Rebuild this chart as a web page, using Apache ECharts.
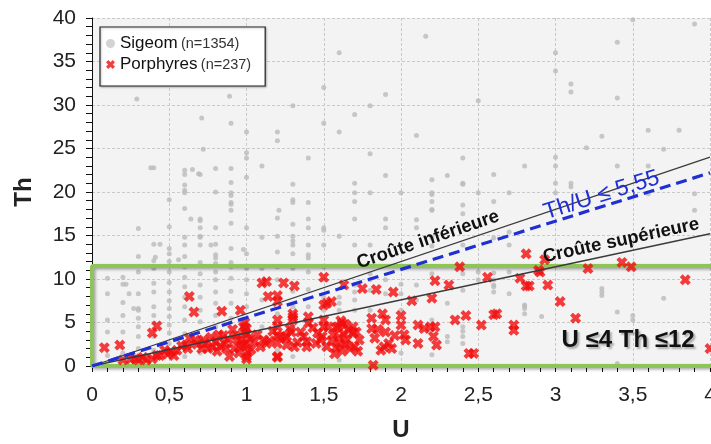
<!DOCTYPE html>
<html><head><meta charset="utf-8">
<script src="https://cdn.jsdelivr.net/npm/echarts@6/dist/echarts.min.js"></script>
<style>html,body{margin:0;padding:0;background:#fff}#c{width:711px;height:444px}</style>
</head><body><div id="c"></div>
<script>
// ---- data ----
const xTicks = [0, 0.5, 1, 1.5, 2, 2.5, 3, 3.5, 4];
const yTicks = [0, 5, 10, 15, 20, 25, 30, 35, 40];
const legendNames = ['Sigeom', 'Porphyres'];
const legendCounts = ['(n=1354)', '(n=237)'];
const ratioLower = 6;      // Croûte inférieure
const ratioLimit = 5.55;   // Th/U ≤ 5,55
const ratioUpper = 3.8;    // Croûte supérieure
const boxUMax = 4.15;
const boxThMax = 11.5;
const sigeomPoints = [
[0.29,30.7],[0.38,22.8],[0.3,15.8],[0.3,12.6],[0.4,22.8],[0.4,14.0],[0.44,14.0],[0.41,12.5],[0.4,12.1],
[0.5,19.1],[0.5,16.0],[0.5,13.5],[0.5,12.9],[0.5,12.0],[0.56,12.2],
[0.6,22.5],[0.6,22.0],[0.6,20.8],[0.6,20.2],[0.6,19.9],[0.6,18.1],[0.6,14.8],[0.6,13.9],[0.6,12.6],[0.65,22.6],[0.64,16.9],[0.69,22.1],
[0.7,22.0],[0.7,16.9],[0.7,16.7],[0.7,15.9],[0.7,14.9],[0.7,14.8],[0.7,13.9],[0.7,11.9],[0.71,28.5],[0.72,24.9],
[0.8,22.7],[0.8,20.0],[0.8,15.9],[0.77,13.9],[0.8,14.0],[0.8,12.8],[0.8,12.4],[0.8,11.8],
[0.9,27.9],[0.9,22.7],[0.9,21.1],[0.9,19.9],[0.9,19.6],[0.9,18.8],[0.9,18.6],[0.9,17.9],[0.9,16.4],[0.9,13.5],[0.9,11.9],[0.89,31.0],
[1.0,26.9],[1.0,24.5],[1.0,23.9],[1.0,21.7],[1.0,15.9],[0.98,13.4],[1.0,12.9],
[1.1,23.0],[1.1,14.8],
[1.2,26.9],[1.2,25.9],[1.2,17.0],[1.21,17.9],[1.2,14.9],[1.2,13.1],
[1.3,29.9],[1.3,20.9],[1.3,19.1],[1.3,18.8],[1.3,16.3],[1.3,14.9],[1.3,14.4],[1.3,13.9],[1.3,12.9],
[1.4,23.9],[1.4,18.8],[1.4,16.9],[1.4,15.9],[1.4,13.9],[1.4,12.8],[1.4,12.4],
[1.5,32.0],[1.5,27.9],[1.5,15.6],[1.5,13.9],[1.5,15.9],
[1.6,36.0],[1.6,26.9],[1.6,14.9],
[1.7,28.9],[1.7,21.0],[1.7,19.9],[1.7,18.9],[1.7,16.9],[1.7,13.9],
[1.8,29.9],[1.8,24.4],[1.8,19.9],[1.8,13.9],
[1.9,31.2],[1.9,21.9],[1.9,16.9],[1.9,15.9],
[2.0,19.9],
[2.1,26.5],[2.1,16.8],[2.1,15.9],
[2.16,37.9],
[2.2,21.4],[2.2,19.9],[2.2,18.9],[2.2,17.9],[2.2,19.7],[2.2,18.0],[2.2,14.7],[2.2,13.8],
[2.3,21.9],
[2.4,23.9],[2.4,21.0],[2.4,18.5],[2.4,20.9],[2.4,17.5],[2.4,13.9],
[2.5,30.5],[2.5,19.9],
[2.6,22.0],[2.6,18.9],[2.6,14.7],
[2.7,19.9],[2.7,15.4],[2.7,13.9],
[2.8,23.0],
[3.0,36.0],[3.0,33.9],[3.0,24.0],[3.0,23.0],[3.0,21.0],[3.0,19.9],
[3.1,32.4],[3.1,31.5],[3.1,21.0],[3.1,20.6],
[3.2,25.1],[3.3,26.4],[3.4,37.2],[3.4,30.8],[3.4,23.0],[3.5,39.8],
[3.6,27.1],[3.6,23.0],[3.6,19.8],[3.7,24.9],[3.8,27.1],[3.9,39.3],[3.9,19.8],[3.9,17.9],
[0.1,10.1],[0.1,8.3],[0.1,5.3],[0.1,3.9],[0.1,1.2],
[0.2,10.2],[0.2,9.4],[0.2,7.3],[0.2,5.8],[0.2,3.9],[0.22,9.4],[0.2,1.5],
[0.3,10.8],[0.3,8.3],[0.3,6.6],[0.3,6.4],[0.3,5.5],[0.3,4.5],[0.3,3.4],[0.24,8.3],[0.27,6.6],[0.3,2.0],
[0.4,11.2],[0.4,9.5],[0.4,8.5],[0.4,6.8],[0.4,5.8],[0.4,4.9],[0.4,3.4],[0.4,1.8],
[0.5,10.8],[0.5,9.6],[0.5,8.5],[0.5,7.5],[0.5,6.6],[0.5,5.7],[0.5,4.7],[0.5,3.8],[0.5,2.6],
[0.6,11.4],[0.6,10.2],[0.6,9.1],[0.6,7.9],[0.6,6.8],[0.6,5.3],[0.6,3.7],[0.6,2.2],[0.6,1.1],
[0.7,10.6],[0.7,9.3],[0.7,7.9],[0.7,6.4],[0.7,5.1],[0.7,3.2],[0.7,1.5],
[0.8,10.8],[0.8,9.9],[0.8,8.5],[0.8,7.2],[0.8,5.8],[0.8,4.5],[0.8,3.0],
[0.9,11.4],[0.9,10.1],[0.9,8.6],[0.9,7.2],[0.9,5.5],[0.9,3.4],
[1.0,11.2],[1.0,9.9],[1.0,8.3],[1.0,6.8],[1.0,4.9],[1.0,2.6],
[1.1,11.2],[1.1,9.5],[1.1,7.6],[1.1,4.5],
[1.2,11.4],[1.2,9.9],[1.2,7.9],[1.2,6.0],[1.2,3.4],[1.2,1.8],
[1.3,11.2],[1.3,8.6],[1.3,6.8],[1.3,4.5],[1.3,2.6],[1.3,1.1],
[1.4,10.8],[1.4,8.8],[1.4,6.8],[1.4,4.9],[1.4,2.7],
[1.5,11.4],[1.5,9.9],[1.5,7.9],[1.5,6.4],[1.5,4.5],[1.5,2.2],
[1.6,7.9],[1.6,7.2],[1.6,6.4],[1.6,0.7],
[1.7,9.3],[1.7,8.5],[1.7,7.6],[1.7,6.4],
[1.8,10.6],[1.8,9.9],[1.8,8.7],[1.8,6.4],
[1.9,9.9],[1.9,8.3],
[2.0,9.4],[2.0,8.3],[2.0,6.4],[2.0,1.5],
[2.1,9.3],[2.1,7.6],
[2.2,10.6],[2.2,5.3],[2.2,1.3],
[2.3,7.2],[2.3,3.4],[2.3,2.8],
[2.4,10.6],[2.4,8.7],[2.4,4.5],[2.4,4.0],[2.4,3.4],[2.4,2.6],
[2.5,10.8],[2.5,9.9],
[2.6,10.7],[2.6,9.3],[2.6,8.5],[2.6,9.9],[2.6,9.1],
[2.7,10.8],[2.7,8.3],
[2.8,6.9],[2.8,6.0],[2.8,7.0],[2.8,6.6],
[2.9,10.6],[2.91,5.7],
[3.3,8.9],[3.3,8.5],[3.3,8.1],
[3.4,6.2],[3.5,5.8],[3.5,5.3],[3.7,7.8],[3.4,0.3]
];
const porphyrePoints = [
[0.08,2.1],[0.18,2.4],[0.2,0.7],[0.25,0.8],[0.28,0.84],[0.3,0.7],[0.33,1.0],[0.35,0.7],[0.39,0.84],[0.39,3.8],[0.42,4.6],
[0.42,1.2],[0.44,1.2],[0.47,1.8],[0.49,1.4],[0.51,1.6],[0.53,1.2],[0.55,1.8],[0.58,2.3],
[0.63,8.0],[0.66,6.2],[0.61,2.4],[0.62,2.0],[0.63,3.2],[0.67,3.0],[0.68,2.5],[0.71,2.0],[0.72,3.0],[0.73,2.6],[0.75,2.0],[0.77,3.3],
[0.78,2.2],[0.8,2.8],[0.81,1.7],[0.82,3.6],[0.84,6.3],[0.85,3.5],[0.86,2.6],[0.88,3.1],[0.89,1.1],
[0.91,4.2],[0.92,2.0],[0.93,3.5],[0.94,3.0],[0.96,2.2],[0.96,6.4],[0.97,3.0],[0.98,4.5],[0.99,4.0],
[1.0,3.7],[1.0,2.6],[1.0,1.1],[1.0,0.8],[1.02,3.2],[1.03,1.9],[1.05,2.8],[1.07,3.6],
[0.99,5.0],[1.0,4.3],[1.01,1.6],[0.98,2.4],[0.95,1.5],[0.87,2.0],[0.83,2.3],
[1.1,9.55],[1.13,9.7],[1.14,8.0],[1.2,8.1],[1.24,9.55],[1.31,9.2],[1.2,7.4],
[1.11,3.0],[1.09,2.2],[1.13,2.6],[1.15,2.9],[1.17,4.0],
[1.2,5.3],[1.2,4.5],[1.2,3.5],[1.2,2.6],[1.2,1.1],[1.22,3.4],[1.26,2.4],[1.2,1.0],
[1.26,3.4],[1.29,3.9],[1.31,2.2],[1.25,3.2],[1.28,4.3],[1.3,6.0],[1.3,5.3],[1.3,5.65],[1.33,2.7],[1.35,3.9],
[1.37,3.4],[1.39,2.2],[1.39,2.8],[1.4,4.9],[1.4,5.65],[1.43,4.4],[1.45,2.6],[1.46,3.8],
[1.48,3.0],[1.5,10.2],[1.5,4.5],[1.5,7.0],[1.55,7.4],[1.55,2.9],
[1.52,7.2],[1.5,5.3],[1.53,4.5],[1.49,3.4],[1.52,2.2],
[1.58,4.4],[1.64,4.8],[1.69,3.8],[1.58,2.1],[1.64,2.5],
[1.59,4.5],[1.62,4.9],[1.63,3.7],[1.6,2.6],[1.65,3.0],[1.62,1.7],
[1.56,3.6],[1.6,3.3],[1.66,4.1],[1.67,2.0],[1.57,1.4],[1.61,5.2],
[1.63,9.3],[1.75,8.9],[1.84,8.8],[1.95,8.5],
[1.69,4.5],[1.71,3.9],[1.73,3.0],[1.7,2.2],[1.72,1.7],
[1.81,5.5],[1.81,4.3],[1.83,3.2],[1.85,4.2],[1.82,0.1],
[1.88,6.0],[1.9,5.3],[1.89,2.2],[1.94,2.0],[1.9,3.9],[1.96,3.5],[1.92,2.6],[1.87,1.8],
[2.0,5.8],[2.0,4.7],[2.02,3.6],[2.03,3.0],
[2.07,7.5],[2.2,7.8],[2.22,9.8],[2.31,9.3],
[2.11,4.7],[2.15,4.3],[2.19,4.5],[2.22,4.5],[2.21,3.4],[2.23,2.4],[2.11,2.6],
[2.35,5.3],[2.42,5.8],[2.44,1.45],[2.47,1.45],[2.52,4.7],[2.6,5.9],
[2.38,11.4],[2.56,10.2],[2.62,6.0],[2.73,4.7],[2.73,4.1],
[2.77,10.1],[2.81,9.2],[2.83,9.2],[2.89,11.0],[2.9,10.8],[2.95,9.3],
[2.81,12.9],[2.93,12.2],[3.03,7.4],[3.13,5.5],
[3.21,11.2],[3.43,11.9],[3.49,11.4],[3.84,9.9],[4.0,2.0]
];

const FONT = '"Liberation Sans", Arial, Helvetica, sans-serif';
const xMax = xTicks[xTicks.length - 1];
const crossPath = 'path://M0,2.6 L2.6,0 L5,2.4 L7.4,0 L10,2.6 L7.6,5 L10,7.4 L7.4,10 L5,7.6 L2.6,10 L0,7.4 L2.4,5 Z';
const fmt = v => String(v).replace('.', ',');

const chart = echarts.init(document.getElementById('c'), null, {renderer: 'canvas'});

function lineData(r) { return [[0, 0], [xMax, r * xMax]]; }
const boxOutline = [[boxUMax, boxThMax], [0, boxThMax], [0, 0], [boxUMax, 0]];

const option = {
  animation: false,
  backgroundColor: '#ffffff',
  textStyle: {fontFamily: FONT},
  grid: {left: 92, right: 1, top: 18, bottom: 78, show: true, backgroundColor: '#f3f3f3', borderWidth: 0,
         containLabel: false, outerBoundsMode: 'none'},
  legend: {
    data: [{name: legendNames[0], icon: 'circle', itemStyle: {color: '#c8c8c8'}},
           {name: legendNames[1], icon: crossPath, itemStyle: {color: '#e81010'}}],
    orient: 'vertical', left: 100, top: 27,
    backgroundColor: '#ffffff', borderColor: '#222', borderWidth: 1.2,
    padding: [8, 14, 13, 6], itemGap: 4, itemWidth: 9, itemHeight: 9,
    shadowColor: 'rgba(0,0,0,0.25)', shadowBlur: 2, shadowOffsetX: 1, shadowOffsetY: 1,
    formatter: name => '{n|' + name + '} {s|' + legendCounts[legendNames.indexOf(name)] + '}',
    textStyle: {
      fontFamily: FONT,
      rich: {
        n: {fontSize: 17, color: '#111', fontFamily: FONT, lineHeight: 22},
        s: {fontSize: 14.5, color: '#333', fontFamily: FONT}
      }
    }
  },
  xAxis: {
    type: 'value', min: xTicks[0], max: xMax, interval: xTicks[1] - xTicks[0],
    name: 'U', nameLocation: 'middle', nameGap: 52,
    nameTextStyle: {fontSize: 24, fontWeight: 'bold', color: '#222', fontFamily: FONT},
    axisLine: {show: true, onZero: false, lineStyle: {color: '#111', width: 1}},
    axisTick: {show: true, length: 6, lineStyle: {color: '#111'}},
    minorTick: {show: true, splitNumber: 5, length: 6, lineStyle: {color: '#111'}},
    axisLabel: {fontSize: 21, color: '#222', margin: 19, formatter: fmt, fontFamily: FONT},
    splitLine: {show: true, lineStyle: {color: '#c9c9c9', type: [3, 2], width: 1}}
  },
  yAxis: {
    type: 'value', min: yTicks[0], max: yTicks[yTicks.length - 1], interval: yTicks[1] - yTicks[0],
    name: 'Th', nameLocation: 'middle', nameGap: 56, nameRotate: 90,
    nameTextStyle: {fontSize: 24, fontWeight: 'bold', color: '#222', fontFamily: FONT},
    axisLine: {show: true, lineStyle: {color: '#111', width: 1}},
    axisTick: {show: true, length: 6, lineStyle: {color: '#111'}},
    minorTick: {show: true, splitNumber: 5, length: 6, lineStyle: {color: '#111'}},
    axisLabel: {fontSize: 21, color: '#222', margin: 16, fontFamily: FONT},
    splitLine: {show: true, lineStyle: {color: '#c9c9c9', type: [3, 2], width: 1}}
  },
  series: [
    {
      name: legendNames[0], type: 'scatter', data: sigeomPoints, symbol: 'circle', symbolSize: 5,
      itemStyle: {color: '#bababa'}, z: 2, silent: true
    },
    {
      name: 'box', type: 'line', data: boxOutline, clip: false, showSymbol: false, symbol: 'none', z: 3, silent: true,
      lineStyle: {color: '#8dc656', width: 4, shadowColor: 'rgba(0,0,0,0.35)', shadowBlur: 3, shadowOffsetX: 1.5, shadowOffsetY: 1.5}
    },
    {
      name: legendNames[1], type: 'scatter', data: porphyrePoints, symbol: crossPath, symbolSize: 11,
      itemStyle: {color: '#f20d0d'}, z: 4, silent: true
    },
    {
      name: 'Croûte inférieure', type: 'line', data: lineData(ratioLower), showSymbol: false, symbol: 'none',
      lineStyle: {color: '#3a3a3a', width: 1.3}, z: 5, silent: true
    },
    {
      name: 'Croûte supérieure', type: 'line', data: lineData(ratioUpper), showSymbol: false, symbol: 'none',
      lineStyle: {color: '#3a3a3a', width: 1.3}, z: 5, silent: true
    },
    {
      name: 'limit', type: 'line', data: lineData(ratioLimit), showSymbol: false, symbol: 'none',
      lineStyle: {color: '#1f2fd4', width: 3.2, type: [11, 6]}, z: 6, silent: true
    }
  ]
};
chart.setOption(option);

// labels along the lines, positioned through the chart's own scales
function alongLabel(text, u, ratio, offset, style) {
  const p = chart.convertToPixel({gridIndex: 0}, [u, ratio * u]);
  const q = chart.convertToPixel({gridIndex: 0}, [u + 1, ratio * (u + 1)]);
  const ang = Math.atan2(q[1] - p[1], q[0] - p[0]);
  const nx = Math.sin(ang), ny = -Math.cos(ang);
  return {
    type: 'text', x: p[0] + nx * offset, y: p[1] + ny * offset, rotation: -ang, z: 100,
    style: Object.assign({text: text, align: 'center', verticalAlign: 'middle', fontFamily: FONT}, style)
  };
}
const boxLabelPos = chart.convertToPixel({gridIndex: 0}, [3.47, 2.9]);
chart.setOption({
  graphic: [
    alongLabel('Croûte inférieure', 2.2, ratioLower, 12, {fontSize: 18.5, fontWeight: 'bold', fill: '#111'}),
    alongLabel('Th/U ≤ 5,55', 3.32, ratioLimit, 11, {fontSize: 23, fill: '#1f2fd4'}),
    alongLabel('Croûte supérieure', 3.44, ratioUpper, 12, {fontSize: 18.5, fontWeight: 'bold', fill: '#111'}),
    {
      type: 'text', x: boxLabelPos[0], y: boxLabelPos[1], z: 100,
      style: {text: 'U ≤4 Th ≤12', align: 'center', verticalAlign: 'middle', fontFamily: FONT,
              fontSize: 24, fontWeight: 'bold', fill: '#111',
              textShadowColor: 'rgba(0,0,0,0.3)', textShadowBlur: 2, textShadowOffsetX: 2, textShadowOffsetY: 2}
    }
  ]
});
</script>
</body></html>
